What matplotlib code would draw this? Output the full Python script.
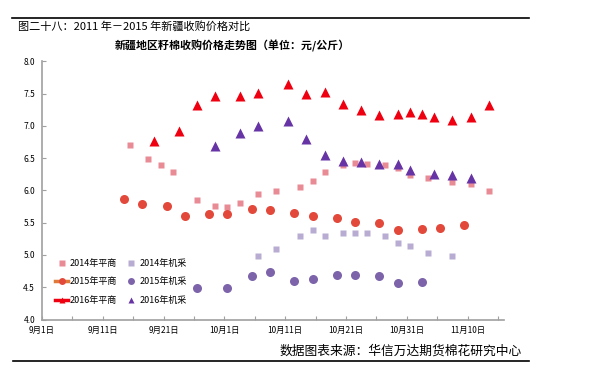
import matplotlib
matplotlib.use("Agg")
import matplotlib.pyplot as plt
from matplotlib.lines import Line2D

plt.rcParams['font.family'] = ['Noto Sans CJK SC', 'DejaVu Sans']

# 日期用 9月1日 起的天数表示
xlabels = ['9月1日', '9月11日', '9月21日', '10月1日', '10月11日', '10月21日', '10月31日', '11月10日']

d14_ps = [14, 17, 19, 21, 25, 28, 30, 32, 35, 38, 42, 44, 46, 49, 51, 53, 56, 58, 60, 63, 67, 70, 73]
v14_ps = [6.70, 6.49, 6.39, 6.28, 5.85, 5.76, 5.74, 5.80, 5.94, 5.99, 6.05, 6.15, 6.28,
          6.40, 6.43, 6.41, 6.40, 6.35, 6.24, 6.19, 6.13, 6.10, 5.99]

d14_jc = [35, 38, 42, 44, 46, 49, 51, 53, 56, 58, 60, 63, 67]
v14_jc = [4.99, 5.09, 5.29, 5.38, 5.29, 5.34, 5.34, 5.34, 5.29, 5.19, 5.14, 5.03, 4.99]

d15_ps = [13, 16, 20, 23, 27, 30, 34, 37, 41, 44, 48, 51, 55, 58, 62, 65, 69]
v15_ps = [5.87, 5.79, 5.76, 5.61, 5.64, 5.63, 5.71, 5.69, 5.65, 5.61, 5.58,
          5.51, 5.49, 5.39, 5.40, 5.42, 5.47]

d15_jc = [25, 30, 34, 37, 41, 44, 48, 51, 55, 58, 62]
v15_jc = [4.49, 4.49, 4.67, 4.74, 4.59, 4.62, 4.69, 4.69, 4.68, 4.57, 4.58]

d16_ps = [18, 22, 25, 28, 32, 35, 40, 43, 46, 49, 52, 55, 58, 60, 62, 64, 67, 70, 73]
v16_ps = [6.76, 6.92, 7.32, 7.46, 7.46, 7.51, 7.65, 7.50, 7.53, 7.34, 7.24, 7.17,
          7.19, 7.22, 7.18, 7.13, 7.09, 7.13, 7.32]

d16_jc = [28, 32, 35, 40, 43, 46, 49, 52, 55, 58, 60, 64, 67, 70]
v16_jc = [6.69, 6.89, 6.99, 7.07, 6.79, 6.55, 6.46, 6.44, 6.41, 6.41, 6.31, 6.26, 6.24, 6.19]

names = ['2014年平商', '2015年平商', '2016年平商', '2014年机采', '2015年机采', '2016年机采']

fig = plt.figure(figsize=(6.1, 3.85), dpi=100)
ax = fig.add_axes([42/610, 65.5/385, 462/610, 258.2/385])

def sx(days):
    # Excel 日期轴，点落在两刻度之间
    return [d + 0.5 for d in days]

ax.plot(sx(d14_ps), v14_ps, 's', color='#E98B94', ms=5, mec='none')
ax.plot(sx(d14_jc), v14_jc, 's', color='#B9ACD3', ms=5, mec='none')
ax.plot(sx(d15_ps), v15_ps, 'o', color='#E2493B', ms=6.5, mec='none')
ax.plot(sx(d15_jc), v15_jc, 'o', color='#7C63AA', ms=6.5, mec='none')
ax.plot(sx(d16_ps), v16_ps, '^', color='#EE0010', ms=6.5, mec='none')
ax.plot(sx(d16_jc), v16_jc, '^', color='#6734A6', ms=6.5, mec='none')

ax.set_xlim(0, 76)
ax.set_ylim(4.0, 8.0)
ax.set_yticks([4.0, 4.5, 5.0, 5.5, 6.0, 6.5, 7.0, 7.5, 8.0])
ax.set_yticklabels(['4.0', '4.5', '5.0', '5.5', '6.0', '6.5', '7.0', '7.5', '8.0'])
ax.set_xticks(range(0, 76, 5))
lab = []
for i in range(16):
    lab.append(xlabels[i // 2] if i % 2 == 0 else '')
ax.set_xticklabels(lab)
ax.tick_params(labelsize=6, direction='in', length=3, color='#A0A0A0', pad=5)
for s in ['top', 'right']:
    ax.spines[s].set_visible(False)
for s in ['left', 'bottom']:
    ax.spines[s].set_color('#A0A0A0')
    ax.spines[s].set_linewidth(1.2)

handles = [
    Line2D([], [], ls='none', marker='s', color='#E98B94', ms=4, mec='none'),
    Line2D([], [], color='#E07A3A', lw=2.5, marker='o', mfc='#E2493B', mec='none', ms=5),
    Line2D([], [], color='#EE0010', lw=2.5, marker='^', mfc='#EE0010', mec='none', ms=5),
    Line2D([], [], ls='none', marker='s', color='#B9ACD3', ms=4, mec='none'),
    Line2D([], [], ls='none', marker='o', color='#7C63AA', ms=5, mec='none'),
    Line2D([], [], ls='none', marker='^', color='#6734A6', ms=4, mec='none'),
]
ax.legend(handles, names, ncol=2, frameon=False, fontsize=6.5, loc='upper left',
          bbox_to_anchor=(55/610, 1 - 259/385), bbox_transform=fig.transFigure,
          handlelength=1.45, handletextpad=0.15, columnspacing=0.9, labelspacing=1.05,
          borderaxespad=0, borderpad=0)

fig.add_artist(Line2D([12/610, 529/610], [1 - 18/385, 1 - 18/385], color='black', lw=1.2))
fig.text(18/610, 1 - 26/385, '图二十八：2011 年－2015 年新疆收购价格对比', fontsize=8,
         va='center', ha='left')
fig.text(232/610, 1 - 46/385, '新疆地区籽棉收购价格走势图（单位：元/公斤）', fontsize=7.9,
         fontweight='bold', va='center', ha='center')
fig.text(522/610, 1 - 351/385, '数据图表来源：华信万达期货棉花研究中心', fontsize=9.2,
         va='center', ha='right')
fig.add_artist(Line2D([13/610, 529/610], [1 - 361/385, 1 - 361/385], color='black', lw=1.2))

plt.savefig('out.png', dpi=100)
